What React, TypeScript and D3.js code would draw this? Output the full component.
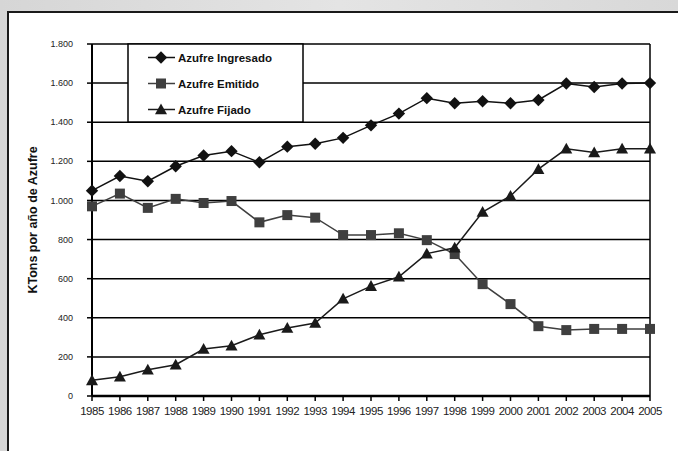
import React from "react";
import * as d3 from "d3";

const years = ["1985","1986","1987","1988","1989","1990","1991","1992","1993","1994","1995","1996","1997","1998","1999","2000","2001","2002","2003","2004","2005"];
const ingresado = [1050,1125,1098,1175,1230,1252,1195,1275,1290,1320,1384,1444,1523,1497,1507,1497,1514,1598,1580,1598,1600];
const emitido = [970,1035,962,1008,987,997,888,925,912,823,823,832,797,726,572,470,357,337,343,343,343];
const fijado = [80,99,134,160,240,257,313,348,373,497,562,610,728,758,941,1023,1160,1264,1245,1264,1264];
const yTicks = [0,200,400,600,800,1000,1200,1400,1600,1800];
const seriesNames = ["Azufre Ingresado","Azufre Emitido","Azufre Fijado"];
const yTitle = "KTons por año de Azufre";

const W = 678, H = 451;
const L = 92, R = 650, T = 44, B = 396;
const font = "'Liberation Sans', Arial, sans-serif";

function fmt(v: number) {
  return v >= 1000 ? d3.format(",")(v).replace(",", ".") : String(v);
}

function Marker({ kind, x, y, fill }: { kind: string; x: number; y: number; fill: string }) {
  if (kind === "diamond") {
    const s = 6.2;
    return <path d={`M${x},${y - s}L${x + s},${y}L${x},${y + s}L${x - s},${y}Z`} fill={fill} />;
  }
  if (kind === "square") {
    const s = 5;
    return <rect x={x - s} y={y - s} width={2 * s} height={2 * s} fill={fill} />;
  }
  const s = 6;
  return <path d={`M${x},${y - s}L${x + s},${y + s * 0.8}L${x - s},${y + s * 0.8}Z`} fill={fill} />;
}

export default function App() {
  const x = d3.scalePoint<string>().domain(years).range([L, R]);
  const y = d3.scaleLinear().domain([0, 1800]).range([B, T]);
  const line = d3.line<number>().x((_, i) => x(years[i]) as number).y((d) => y(d));
  const series = [
    { name: seriesNames[0], data: ingresado, kind: "diamond", color: "#111" },
    { name: seriesNames[1], data: emitido, kind: "square", color: "#3f3f3f" },
    { name: seriesNames[2], data: fijado, kind: "triangle", color: "#1a1a1a" },
  ];
  return (
    <svg width={W} height={H} style={{ display: "block", position: "absolute", left: 0, top: 0 }} fontFamily={font}>
      <defs>
        <linearGradient id="bg" x1="0" y1="0" x2="1" y2="0">
          <stop offset="0" stopColor="#d6d6d6" />
          <stop offset="0.5" stopColor="#e4e4e4" />
          <stop offset="1" stopColor="#d8d8d8" />
        </linearGradient>
      </defs>
      <rect x={0} y={0} width={W} height={H} fill="url(#bg)" />
      <rect x={8} y={12} width={W + 10} height={H + 10} fill="#fff" stroke="#1a1a1a" strokeWidth={2} />
      {yTicks.filter((t) => t > 0).map((t) => (
        <line key={t} x1={L} x2={R} y1={y(t)} y2={y(t)} stroke="#000" strokeWidth={1.5} />
      ))}
      <line x1={R} x2={R} y1={T} y2={B} stroke="#000" strokeWidth={1.5} />
      <line x1={L} x2={L} y1={T} y2={B} stroke="#000" strokeWidth={2} />
      {yTicks.map((t) => (
        <g key={t}>
          <line x1={L - 5} x2={L} y1={y(t)} y2={y(t)} stroke="#000" strokeWidth={1.5} />
          <text x={73} y={y(t)} dy="0.35em" textAnchor="end" fontSize={9} fill="#222">{fmt(t)}</text>
        </g>
      ))}
      <line x1={L} x2={R} y1={B} y2={B} stroke="#000" strokeWidth={2.5} />
      {years.map((yr) => (
        <g key={yr}>
          <line x1={x(yr)} x2={x(yr)} y1={B} y2={B + 5} stroke="#000" strokeWidth={1.5} />
          <text x={x(yr)} y={B + 19} textAnchor="middle" fontSize={11.5} fill="#222" letterSpacing={-0.5}>{yr}</text>
        </g>
      ))}
      <text transform={`translate(37,${(T + B) / 2}) rotate(-90)`} textAnchor="middle" fontSize={12.5} fontWeight="bold" fill="#111">{yTitle}</text>
      <rect x={128} y={T} width={175} height={78} fill="#fff" stroke="#000" strokeWidth={1.5} />
      {series.map((s, i) => {
        const ly = 57.5 + i * 26;
        return (
          <g key={s.name}>
            <line x1={148} x2={175} y1={ly} y2={ly} stroke={s.color} strokeWidth={1.5} />
            <Marker kind={s.kind} x={161} y={ly} fill={s.color} />
            <text x={178} y={ly} dy="0.35em" fontSize={11.5} fontWeight="bold" fill="#111">{s.name}</text>
          </g>
        );
      })}
      {series.map((s) => (
        <g key={s.name}>
          <path d={line(s.data) as string} fill="none" stroke={s.color} strokeWidth={1.5} />
          {s.data.map((v, i) => (
            <Marker key={i} kind={s.kind} x={x(years[i]) as number} y={y(v)} fill={s.color} />
          ))}
        </g>
      ))}
    </svg>
  );
}
